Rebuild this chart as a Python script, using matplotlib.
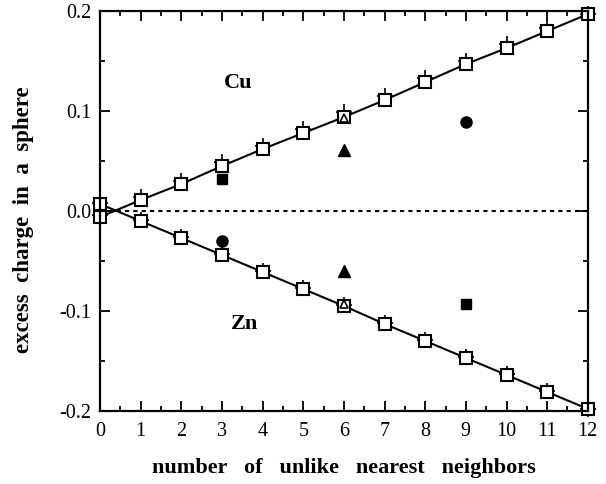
import numpy as np
import matplotlib
matplotlib.use('Agg')
import matplotlib.pyplot as plt
from matplotlib.ticker import MultipleLocator, FormatStrFormatter

plt.rcParams['font.family'] = ['Liberation Serif', 'DejaVu Serif']

# --- data ---
n = np.arange(0, 13)
cu_sq = [-0.006, 0.011, 0.027, 0.045, 0.062, 0.078, 0.094, 0.111, 0.129, 0.147, 0.163, 0.180, 0.197]
cu_plus = [-0.004, 0.014, 0.030, 0.049, 0.065, 0.082, 0.099, 0.115, 0.133, 0.150, 0.167, 0.183, 0.197]
zn_sq = [0.007, -0.010, -0.027, -0.044, -0.061, -0.078, -0.095, -0.113, -0.130, -0.147, -0.164, -0.181, -0.198]
zn_plus = [0.008, -0.009, -0.026, -0.043, -0.060, -0.077, -0.094, -0.112, -0.129, -0.146, -0.163, -0.180, -0.198]

# open triangles at n=6
tri_open_x = [6, 6]
tri_open_y = [0.093, -0.093]
# filled symbols
sq_fill_x = [3, 9]
sq_fill_y = [0.032, -0.093]
tri_fill_x = [6, 6]
tri_fill_y = [0.061, -0.060]
circ_fill_x = [9, 3]
circ_fill_y = [0.089, -0.030]

fig = plt.figure(figsize=(6.06, 4.84), dpi=100)
ax = fig.add_axes([0.165, 0.151, 0.805, 0.826])

ax.plot([0, 12], [0, 0], color='k', ls=(0, (2, 2)), lw=1.5)

for sq, pl in [(cu_sq, cu_plus), (zn_sq, zn_plus)]:
    ax.plot(n, sq, 'k-', lw=1.5)
    ax.plot(n, pl, 'k+', ms=11, mew=1.2, clip_on=False)
    ax.plot(n, sq, 's', mfc='white', mec='k', ms=8.5, mew=1.5, clip_on=False)

ax.plot(tri_open_x, tri_open_y, '^', mfc='white', mec='k', ms=6, mew=1.2)
ax.plot(sq_fill_x, sq_fill_y, 's', color='k', ms=7)
ax.plot(tri_fill_x, tri_fill_y, '^', color='k', ms=8)
ax.plot(circ_fill_x, circ_fill_y, 'o', color='k', ms=8)

ax.text(3.4, 0.128, 'Cu', fontsize=16, fontweight='bold', ha='center', va='center')
ax.text(3.55, -0.113, 'Zn', fontsize=16, fontweight='bold', ha='center', va='center')

ax.set_xlim(0, 12)
ax.set_ylim(-0.2, 0.2)
ax.xaxis.set_major_locator(MultipleLocator(1))
ax.xaxis.set_minor_locator(MultipleLocator(0.5))
ax.yaxis.set_major_locator(MultipleLocator(0.1))
ax.yaxis.set_minor_locator(MultipleLocator(0.05))
ax.yaxis.set_major_formatter(FormatStrFormatter('%.1f'))
ax.tick_params(which='both', direction='in', top=True, right=True, width=1.3, labelsize=14.5)
ax.tick_params(which='major', length=7, pad=6)
ax.tick_params(axis='x', which='major', pad=8)
ax.tick_params(which='minor', length=3.5)
for s in ax.spines.values():
    s.set_linewidth(1.6)

ax.set_xlabel('number   of   unlike   nearest   neighbors', fontsize=16, fontweight='bold', labelpad=12)
ax.set_ylabel('excess  charge  in  a  sphere', fontsize=16.5, fontweight='bold', va='center')
ax.yaxis.set_label_coords(-0.156, 0.4775)

fig.savefig('out.png', dpi=100)
